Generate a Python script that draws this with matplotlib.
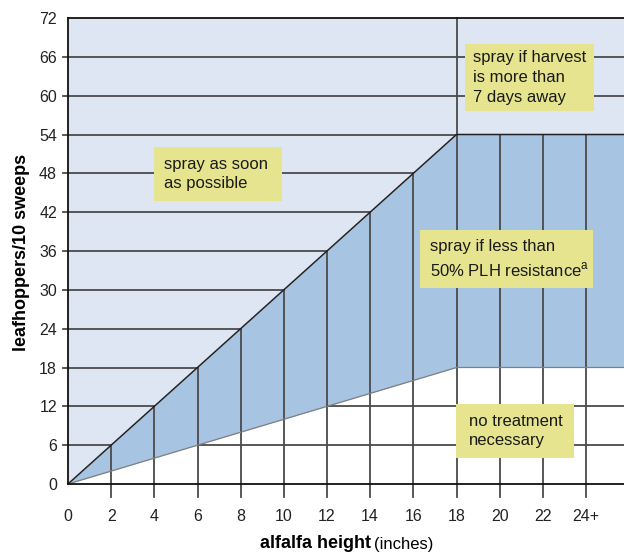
import numpy as np
import matplotlib.pyplot as plt
from matplotlib.patches import Rectangle

plt.rcParams['font.family'] = ['Liberation Sans', 'DejaVu Sans']
plt.rcParams['mathtext.fontset'] = 'custom'
plt.rcParams['mathtext.rm'] = 'Liberation Sans'

# alfalfa height (inches) and thresholds (leafhoppers / 10 sweeps)
x_max = 25.76
height_ticks = [0, 2, 4, 6, 8, 10, 12, 14, 16, 18, 20, 22, 24]
height_labels = ['0', '2', '4', '6', '8', '10', '12', '14', '16', '18', '20', '22', '24+']
count_ticks = [0, 6, 12, 18, 24, 30, 36, 42, 48, 54, 60, 66, 72]
thresh_height = [0, 18, x_max]
upper_thresh = [0, 54, 54]   # spray as soon as possible above this
lower_thresh = [0, 18, 18]   # no treatment below this

light = '#dfe6f3'
blue = '#a7c4e2'
yellow = '#e6e48f'
grid_c = '#4a4a4a'

fig = plt.figure(figsize=(6.24, 5.53), dpi=100)
ax = fig.add_axes([68 / 624, 69 / 553, 1 - 68 / 624, (484 - 18) / 553])
ax.set_xlim(0, x_max)
ax.set_ylim(0, 72)
ax.set_facecolor(light)

hx = np.linspace(0, x_max, 400)
up = np.interp(hx, thresh_height, upper_thresh)
lo = np.interp(hx, thresh_height, lower_thresh)
ax.fill_between(hx, lo, up, color=blue, lw=0, zorder=1)
ax.fill_between(hx, 0, lo, color='white', lw=0, zorder=1)

# horizontal grid lines (with left tick stubs)
xt = 5 / 21.58
for yv in count_ticks[1:-1]:
    x_up = np.interp(yv, upper_thresh[:2], thresh_height[:2]) if yv <= 54 else x_max
    ax.plot([-xt, x_up], [yv, yv], color=grid_c, lw=1.3, clip_on=False, zorder=2)
    if yv < 18:
        x_lo = np.interp(yv, lower_thresh[:2], thresh_height[:2])
        ax.plot([x_lo, x_max], [yv, yv], color=grid_c, lw=1.3, zorder=2)

# vertical grid lines (with bottom tick stubs)
yt = 13 / 6.472
for xv in height_ticks[1:]:
    top = 72 if xv == 18 else np.interp(xv, thresh_height, upper_thresh)
    ax.plot([xv, xv], [-yt, top], color=grid_c, lw=1.3, clip_on=False, zorder=2)

ax.plot(thresh_height, upper_thresh, color='#222222', lw=1.1, zorder=3)
ax.plot(thresh_height, lower_thresh, color='#808080', lw=0.9, zorder=3)

ax.set_xticks(height_ticks)
ax.set_xticklabels(height_labels)
ax.set_yticks(count_ticks)
ax.tick_params(axis='x', length=0, pad=18, labelsize=11.5, labelcolor='#222222')
ax.tick_params(axis='y', length=0, pad=8, labelsize=11.5, labelcolor='#222222')
for s in ['left', 'bottom', 'top']:
    ax.spines[s].set_color('#111111')
    ax.spines[s].set_linewidth(1.3)
    ax.spines[s].set_zorder(4)
ax.spines['right'].set_visible(False)

# annotation boxes
boxes = [
    ((3.98, 43.73), 5.94, 8.34, 4.45, 'spray as soon\nas possible'),
    ((18.4, 57.6), 5.97, 10.4, 18.77, 'spray if harvest\nis more than\n7 days away'),
    ((16.31, 30.28), 8.02, 8.97, 16.78, 'spray if less than\n50% PLH resistance$^{\\mathrm{a}}$'),
    ((17.98, 4.02), 5.47, 8.34, 18.58, 'no treatment\nnecessary'),
]
for (bx, by), w, h, tx, txt in boxes:
    ax.add_patch(Rectangle((bx, by), w, h, facecolor=yellow, edgecolor='none', zorder=5))
    ax.text(tx, by + h / 2, txt, ha='left', va='center', fontsize=12,
            color='#1a1a1a', linespacing=1.38, zorder=6)

fig.text(22 / 624, 1 - 252 / 553, 'leafhoppers/10 sweeps', rotation=90,
         ha='center', va='center', fontsize=13, fontweight='bold')
fig.text(371 / 624, 9 / 553, 'alfalfa height', ha='right', va='center',
         fontsize=13, fontweight='bold')
fig.text(374 / 624, 9 / 553, '(inches)', ha='left', va='center', fontsize=12)

fig.savefig('out.png', dpi=100)
